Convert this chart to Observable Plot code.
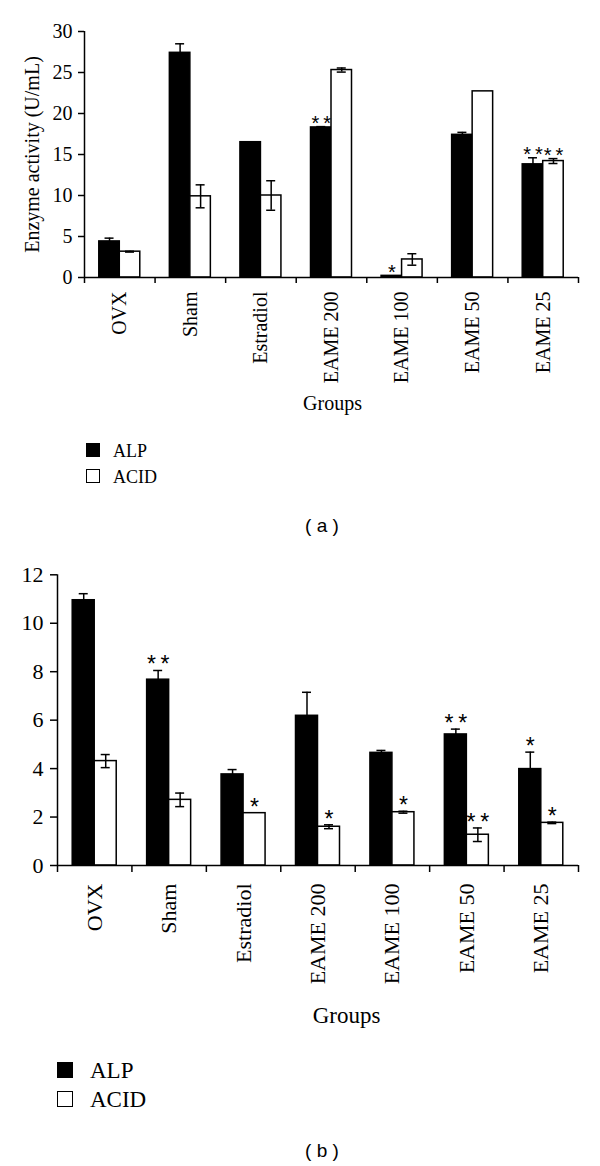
<!DOCTYPE html>
<html><head><meta charset="utf-8">
<script src="https://cdn.jsdelivr.net/npm/d3@7"></script>
<script src="https://cdn.jsdelivr.net/npm/@observablehq/plot@0.6"></script>
<style>
body{margin:0;background:#fff;}
#root{position:relative;width:600px;height:1166px;overflow:hidden;background:#fff;font-family:"Liberation Serif","Times New Roman",serif;color:#000;}
.plot{position:absolute;left:0;}
.sw{position:absolute;box-sizing:border-box;border:1.5px solid #000;}
.lt{position:absolute;line-height:1;white-space:nowrap;}
.cap{position:absolute;width:200px;text-align:center;line-height:1;font-family:"Liberation Sans",Arial,sans-serif;white-space:pre;}
</style></head>
<body><div id="root"></div>
<script>
// ---- data ----
const groups = ["OVX", "Sham", "Estradiol", "EAME 200", "EAME 100", "EAME 50", "EAME 25"];
const seriesNames = ["ALP", "ACID"];

// panel (a): enzyme activity (U/mL)
const aALP = [4.4, 27.4, 16.5, 18.3, 0.2, 17.4, 13.8];
const aALPErr = [0.4, 1.1, 0, 0.1, 0, 0.3, 0.8];
const aACID = [3.15, 9.9, 10.0, 25.3, 2.2, 22.7, 14.2];
const aACIDErr = [0.05, 1.4, 1.8, 0.25, 0.7, 0, 0.3];
const aStarGroups = ["EAME 200", "EAME 100", "EAME 25", "EAME 25"];
const aStarSeries = ["ALP", "ALP", "ALP", "ACID"];
const aStarLabels = ["*\u2009*", "*", "*\u2009*", "*\u2009*"];
const aYTicks = [0, 5, 10, 15, 20, 25, 30];

// panel (b)
const bALP = [10.95, 7.67, 3.76, 6.18, 4.65, 5.41, 3.98];
const bALPErr = [0.27, 0.38, 0.2, 0.97, 0.1, 0.22, 0.7];
const bACID = [4.31, 2.71, 2.16, 1.6, 2.2, 1.27, 1.76];
const bACIDErr = [0.27, 0.28, 0, 0.08, 0.04, 0.28, 0.03];
const bStarGroups = ["Sham", "Estradiol", "EAME 200", "EAME 100", "EAME 50", "EAME 50", "EAME 25", "EAME 25"];
const bStarSeries = ["ALP", "ACID", "ACID", "ACID", "ALP", "ACID", "ALP", "ACID"];
const bStarLabels = ["*\u2009*", "*", "*", "*", "*\u2009*", "*\u2009*", "*", "*"];
const bYTicks = [0, 2, 4, 6, 8, 10, 12];

const yTitleA = "Enzyme activity (U/mL)";
const xTitle = "Groups";

const root = document.getElementById("root");

function makePanel(cfg) {
  const W = 600;
  const step = (W - cfg.marginLeft - cfg.marginRight) / groups.length;
  const rows = (vals, errs, s) => groups.map((g, i) => ({group: g, series: s, value: vals[i], err: errs[i]}));
  const alp = rows(cfg.alp, cfg.alpErr, "ALP");
  const acid = rows(cfg.acid, cfg.acidErr, "ACID");
  const lookup = new Map([...alp, ...acid].map(d => [d.group + "|" + d.series, d]));
  const stars = cfg.starGroups.map((g, i) => {
    const d = lookup.get(g + "|" + cfg.starSeries[i]);
    return {group: g, series: cfg.starSeries[i], label: cfg.starLabels[i], top: d.value + d.err};
  });
  const bw = cfg.barW;
  const cA = step / 2 - bw / 2, cB = step / 2 + bw / 2;
  const cw = cfg.capW;
  const errMarks = (data, c, dx) => {
    const e = data.filter(d => d.err > 0);
    return [
      Plot.ruleX(e, {x: "group", y1: d => d.value - d.err, y2: d => d.value + d.err, dx, stroke: "black", strokeWidth: 1.5}),
      Plot.tickY(e, {x: "group", y: d => d.value + d.err, insetLeft: c - cw / 2, insetRight: step - c - cw / 2, stroke: "black", strokeWidth: 1.5}),
      Plot.tickY(e, {x: "group", y: d => d.value - d.err, insetLeft: c - cw / 2, insetRight: step - c - cw / 2, stroke: "black", strokeWidth: 1.5})
    ];
  };
  const starOpts = {x: "group", y: "top", text: "label", dy: cfg.starDy, lineAnchor: "bottom", fontFamily: "Liberation Sans, Arial, sans-serif", fontSize: cfg.starSize, fill: "black"};
  const marks = [
    Plot.barY(alp, {x: "group", y: "value", fill: "black", stroke: "black", strokeWidth: 1.5, insetLeft: step / 2 - bw, insetRight: step / 2}),
    Plot.barY(acid, {x: "group", y: "value", fill: "white", stroke: "black", strokeWidth: 1.5, insetLeft: step / 2, insetRight: step / 2 - bw}),
    ...errMarks(alp, cA, -bw / 2),
    ...errMarks(acid, cB, bw / 2),
    Plot.text(stars.filter(d => d.series === "ALP"), {...starOpts, dx: -bw / 2}),
    Plot.text(stars.filter(d => d.series === "ACID"), {...starOpts, dx: bw / 2}),
    Plot.ruleY([0], {stroke: "black", strokeWidth: 1.5}),
    Plot.ruleX([groups[0]], {x: d => d, y1: 0, y2: cfg.yMax, dx: -step / 2, stroke: "black", strokeWidth: 1.5}),
    Plot.axisY({ticks: cfg.yTicks, tickSize: cfg.yTickSize, tickPadding: cfg.yTickPad, fontSize: cfg.tickFont, label: null, strokeWidth: 1.5}),
    Plot.axisX({tickSize: 0, tickPadding: cfg.xLabelPad, tickRotate: -90, fontSize: cfg.xLabelFont, label: null}),
    Plot.axisX({ticks: groups, tickSize: cfg.xTickSize, tickFormat: () => "", dx: -step / 2, label: null, strokeWidth: 1.5}),
    Plot.axisX({ticks: [groups[groups.length - 1]], tickSize: cfg.xTickSize, tickFormat: () => "", dx: step / 2, label: null, strokeWidth: 1.5}),
    Plot.text([xTitle], {frameAnchor: "bottom", dx: cfg.groupsDx, dy: cfg.groupsDy, lineAnchor: "bottom", textAnchor: "middle", fontSize: cfg.titleFont})
  ];
  if (cfg.yTitle) marks.push(Plot.text([cfg.yTitle], {frameAnchor: "left", rotate: -90, textAnchor: "middle", lineAnchor: "middle", dx: cfg.yTitleDx, fontSize: cfg.titleFont}));
  const chart = Plot.plot({
    width: W, height: cfg.height,
    marginLeft: cfg.marginLeft, marginRight: cfg.marginRight, marginTop: cfg.marginTop, marginBottom: cfg.marginBottom,
    x: {type: "band", domain: groups, padding: 0, round: false},
    y: {domain: [0, cfg.yMax]},
    style: {fontFamily: "Liberation Serif, Times New Roman, serif", fontSize: cfg.tickFont + "px", color: "black", background: "transparent", overflow: "visible"},
    marks
  });
  chart.classList.add("plot");
  chart.style.top = cfg.top + "px";
  root.appendChild(chart);
}

makePanel({
  top: 0, height: 417, marginLeft: 84, marginRight: 22, marginTop: 31, marginBottom: 140,
  alp: aALP, alpErr: aALPErr, acid: aACID, acidErr: aACIDErr,
  starGroups: aStarGroups, starSeries: aStarSeries, starLabels: aStarLabels,
  yMax: 30, yTicks: aYTicks, barW: 20.5, capW: 9, starSize: 20, starDy: 3,
  yTickSize: 6, yTickPad: 6, xTickSize: 6, tickFont: 20, xLabelFont: 20, xLabelPad: 14, titleFont: 20,
  groupsDx: 1, groupsDy: 132, yTitle: yTitleA, yTitleDx: -52
});

makePanel({
  top: 545, height: 485, marginLeft: 57, marginRight: 22, marginTop: 29.3, marginBottom: 165,
  alp: bALP, alpErr: bALPErr, acid: bACID, acidErr: bACIDErr,
  starGroups: bStarGroups, starSeries: bStarSeries, starLabels: bStarLabels,
  yMax: 12, yTicks: bYTicks, barW: 22, capW: 9, starSize: 23, starDy: 2,
  yTickSize: 7, yTickPad: 7, xTickSize: 7, tickFont: 22, xLabelFont: 22, xLabelPad: 18, titleFont: 23,
  groupsDx: 28.5, groupsDy: 157, yTitle: null
});

// legends and captions
function legend(x, y0, gap, size, textX, font) {
  seriesNames.forEach((s, i) => {
    const base = y0 + i * gap;
    const sq = document.createElement("div");
    sq.className = "sw";
    sq.style.left = x + "px"; sq.style.top = (base - size) + "px";
    sq.style.width = size + "px"; sq.style.height = size + "px";
    sq.style.background = s === "ALP" ? "#000" : "#fff";
    root.appendChild(sq);
    const t = document.createElement("div");
    t.className = "lt";
    t.textContent = s;
    t.style.left = textX + "px"; t.style.fontSize = font + "px";
    t.style.top = (base - 0.8375 * font) + "px";
    root.appendChild(t);
  });
}
legend(86, 457, 26, 14, 113, 18);
legend(57, 1078, 29, 16, 90, 23);

function caption(txt, cx, baseline, font) {
  const c = document.createElement("div");
  c.className = "cap";
  c.textContent = txt;
  c.style.left = (cx - 100) + "px";
  c.style.fontSize = font + "px";
  c.style.top = (baseline - 0.8465 * font) + "px";
  root.appendChild(c);
}
caption("( a )", 322, 532, 19);
caption("( b )", 322, 1157, 19);
</script>
</body></html>
